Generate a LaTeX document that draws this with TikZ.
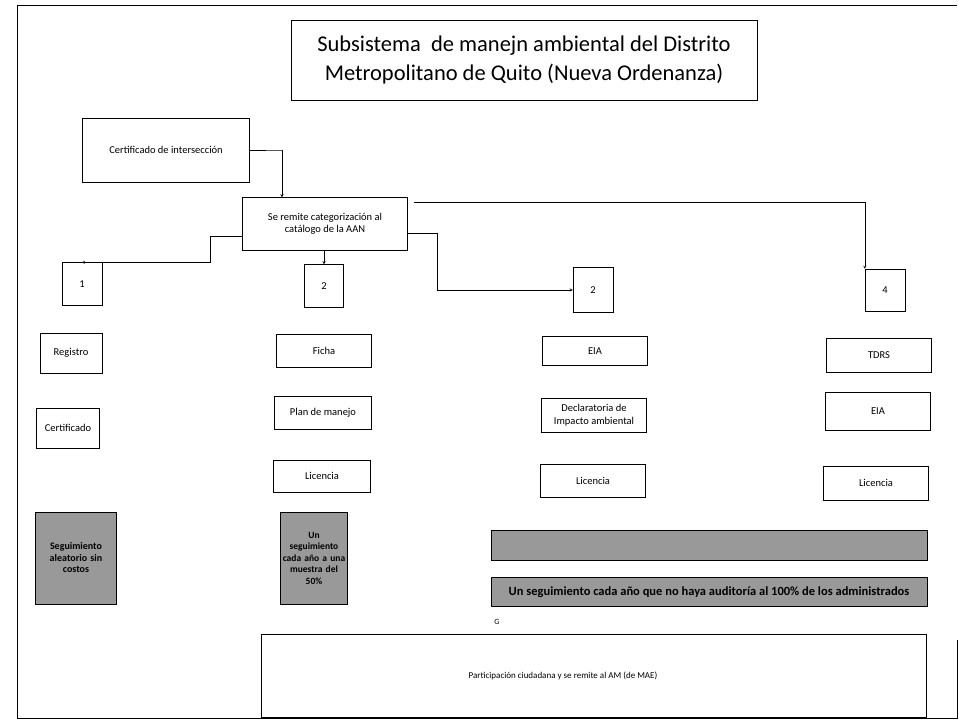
\documentclass[tikz,border=0pt]{standalone}
\usepackage{fontspec}
\setmainfont{Carlito}
\usetikzlibrary{arrows, positioning}

\begin{document}
\begin{tikzpicture}[
            x = 1pt, y = -1pt, % pixel grid of the scan
            > = stealth, % arrow head style
            shorten > = 0pt,
            thin % line style
        ]

        \tikzstyle{box}=[
            draw = black,
            thin,
            fill = white,
            inner sep = 1pt,
            align = center,
            font = \fontsize{10.5}{12.5}\selectfont
        ]
        \tikzstyle{num}=[box, minimum width = 40pt, minimum height = 43pt]
        \tikzstyle{scan}=[
            draw = black,
            fill = black!40,
            inner sep = 1pt,
            align = center,
            font = \bfseries\fontsize{10}{11.5}\selectfont
        ]

        \useasboundingbox (0,0) rectangle (959,721);
        \draw[semithick] (957,640) -- (957,718) -- (17,718) -- (17,5) -- (957,5);

        \node[box, minimum width = 466pt, minimum height = 80pt,
              font = \fontsize{22.5}{29}\selectfont] (title) at (524,60)
            {Subsistema~ de manejn ambiental del Distrito\\
             Metropolitano de Quito (Nueva Ordenanza)};

        \node[box, minimum width = 167pt, minimum height = 64pt] (cert) at (166,150)
            {Certificado de intersección};
        \node[box, minimum width = 165pt, minimum height = 53pt] (cat) at (325,224)
            {Se remite categorización al\\ catálogo de la AAN};

        \node[num] (n1) at (82,284) {1};
        \node[num, minimum width = 39pt] (n2) at (324,286) {2};
        \node[num, minimum height = 45pt] (n3) at (593,290) {2};
        \node[num, minimum height = 42pt] (n4) at (885,290) {4};

        % column 1
        \node[box, minimum width = 62pt, minimum height = 40pt] (reg) at (71,353) {Registro};
        \node[box, minimum width = 63pt, minimum height = 40pt] (certif) at (68,428) {Certificado};
        \node[scan, minimum width = 81pt, minimum height = 92pt, text width = 78pt] (seg1) at (76,558)
            {Seguimiento\\ aleatorio sin\\ costos};

        % column 2
        \node[box, minimum width = 95pt, minimum height = 33pt] (ficha) at (324,351) {Ficha};
        \node[box, minimum width = 97pt, minimum height = 33pt] (plan) at (323,413) {Plan de manejo};
        \node[box, minimum width = 97pt, minimum height = 32pt] (lic2) at (322,476) {Licencia};
        \node[scan, minimum width = 67pt, minimum height = 92pt, text width = 67pt, inner sep = 0pt,
              font = \bfseries\fontsize{9.5}{11.5}\selectfont] (seg2) at (314,558)
            {Un\\ seguimiento\\ cada año a una\\ muestra del\\ 50\%};

        % column 3
        \node[box, minimum width = 105pt, minimum height = 29pt] (eia3) at (595,351) {EIA};
        \node[box, minimum width = 105pt, minimum height = 34pt] (decl) at (594,415)
            {Declaratoria de\\ Impacto ambiental};
        \node[box, minimum width = 105pt, minimum height = 33pt] (lic3) at (593,481) {Licencia};

        % column 4
        \node[box, minimum width = 105pt, minimum height = 34pt] (tdrs) at (879,355) {TDRS};
        \node[box, minimum width = 105pt, minimum height = 38pt] (eia4) at (878,411) {EIA};
        \node[box, minimum width = 105pt, minimum height = 34pt] (lic4) at (876,483) {Licencia};

        \node[scan, minimum width = 436pt, minimum height = 30pt] (aud1) at (709,545) {};
        \node[scan, minimum width = 436pt, minimum height = 29pt,
              font = \bfseries\fontsize{12.5}{14}\selectfont] (aud2) at (709,592)
            {Un seguimiento cada año que no haya auditoría al 100\% de los administrados};
        \node[font = \fontsize{8}{9}\selectfont] (g) at (497,622) {G};

        \node[box, minimum width = 665pt, minimum height = 83pt] (part) at (594,676) {};
        \node[font = \fontsize{9}{10}\selectfont] (parttxt) at (563,676)
            {Participación ciudadana y se remite al AM (de MAE)};

        \draw[->] (cert.east) -- ++(32,0) -| (cat.north -| 282,0);
        \draw[->] (cat.west |- 0,236) -- ++(-32,0) |- (n1.north);
        \draw[->] (cat.south -| n2.north) -- (n2.north);
        \draw[->] (cat.east |- 0,233) -- ++(29,0) |- (n3.west);
        \draw[->] ([xshift = 6pt, yshift = -5pt]cat.north east) -| (n4.north west);

  \end{tikzpicture}
\end{document}
